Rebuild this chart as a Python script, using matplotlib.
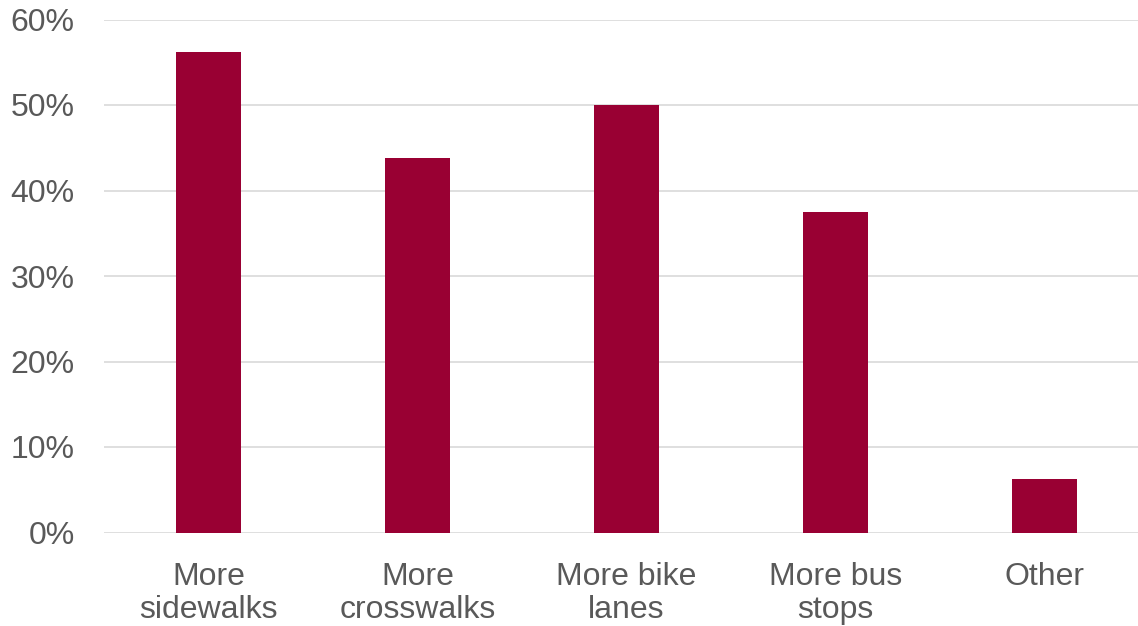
import matplotlib
matplotlib.use('Agg')
import matplotlib.pyplot as plt
from matplotlib.ticker import FuncFormatter

plt.rcParams['font.family'] = ['Liberation Sans', 'DejaVu Sans']

# 数据
categories = ['More\nsidewalks', 'More\ncrosswalks', 'More bike\nlanes', 'More bus\nstops', 'Other']
values = [56.25, 43.75, 50.0, 37.5, 6.25]

barColor = '#990033'
textColor = '#595959'
gridColor = '#d9d9d9'

fig = plt.figure(figsize=(11.38, 6.26), dpi=100)
# 右侧留到画布外，和原图一样网格线伸出边界
ax = fig.add_axes([104 / 1138, 93.5 / 626, 1045 / 1138, 513 / 626])

x = range(len(categories))
ax.bar(x, values, width=0.31, color=barColor, zorder=3)

ax.set_xlim(-0.5, len(categories) - 0.5)
ax.set_ylim(0, 60)
ax.set_yticks(range(0, 61, 10))
ax.yaxis.set_major_formatter(FuncFormatter(lambda v, p: '%d%%' % v))
ax.set_xticks(list(x))
ax.set_xticklabels(categories, linespacing=1.15)

ax.yaxis.grid(True, color=gridColor, linewidth=1.2, zorder=0)
for s in ax.spines.values():
    s.set_visible(False)

ax.tick_params(axis='y', length=0, pad=21, labelsize=23, labelcolor=textColor)
ax.tick_params(axis='x', length=0, pad=21, labelsize=23, labelcolor=textColor)

plt.savefig('out.png', dpi=100)
plt.close()
